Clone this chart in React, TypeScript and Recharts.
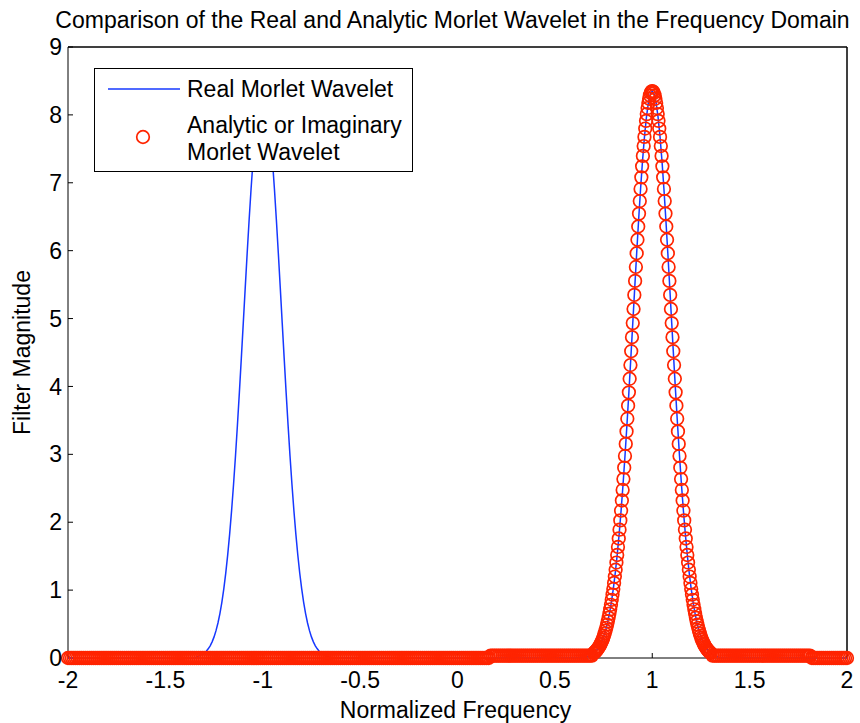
import React from 'react';
import { ScatterChart, Scatter, XAxis, YAxis, Legend, ReferenceLine } from 'recharts';

const TITLE = 'Comparison of the Real and Analytic Morlet Wavelet in the Frequency Domain';
const X_LABEL = 'Normalized Frequency';
const Y_LABEL = 'Filter Magnitude';
const SERIES_REAL = 'Real Morlet Wavelet';
const SERIES_ANALYTIC_1 = 'Analytic or Imaginary';
const SERIES_ANALYTIC_2 = 'Morlet Wavelet';

const xTicks = [-2, -1.5, -1, -0.5, 0, 0.5, 1, 1.5, 2];
const yTicks = [0, 1, 2, 3, 4, 5, 6, 7, 8, 9];

// Real Morlet wavelet (blue line)
const realFreq = [
  -2, -1.35, -1.31,
  -1.3, -1.29, -1.28, -1.27, -1.26, -1.25, -1.24, -1.23, -1.22, -1.21,
  -1.2, -1.19, -1.18, -1.17, -1.16, -1.15, -1.14, -1.13, -1.12, -1.11,
  -1.1, -1.09, -1.08, -1.07, -1.06, -1.05, -1.04, -1.03, -1.02, -1.01,
  -1.0, -0.99, -0.98, -0.97, -0.96, -0.95, -0.94, -0.93, -0.92, -0.91,
  -0.9, -0.89, -0.88, -0.87, -0.86, -0.85, -0.84, -0.83, -0.82, -0.81,
  -0.8, -0.79, -0.78, -0.77, -0.76, -0.75, -0.74, -0.73, -0.72, -0.71,
  -0.7, -0.69, -0.65,
  0.65, 0.69,
  0.7, 0.71, 0.72, 0.73, 0.74, 0.75, 0.76, 0.77, 0.78, 0.79,
  0.8, 0.81, 0.82, 0.83, 0.84, 0.85, 0.86, 0.87, 0.88, 0.89,
  0.9, 0.91, 0.92, 0.93, 0.94, 0.95, 0.96, 0.97, 0.98, 0.99,
  1.0, 1.01, 1.02, 1.03, 1.04, 1.05, 1.06, 1.07, 1.08, 1.09,
  1.1, 1.11, 1.12, 1.13, 1.14, 1.15, 1.16, 1.17, 1.18, 1.19,
  1.2, 1.21, 1.22, 1.23, 1.24, 1.25, 1.26, 1.27, 1.28, 1.29,
  1.3, 1.31, 1.35, 2,
];
const realMag = [
  0, 0, 0.053,
  0.073, 0.1, 0.135, 0.18, 0.238, 0.311, 0.403, 0.516, 0.654, 0.82,
  1.017, 1.249, 1.518, 1.824, 2.17, 2.555, 2.976, 3.431, 3.913, 4.417,
  4.933, 5.452, 5.962, 6.452, 6.909, 7.321, 7.676, 7.964, 8.176, 8.306,
  8.35, 8.306, 8.176, 7.964, 7.676, 7.321, 6.909, 6.452, 5.962, 5.452,
  4.933, 4.417, 3.913, 3.431, 2.976, 2.555, 2.17, 1.824, 1.518, 1.249,
  1.017, 0.82, 0.654, 0.516, 0.403, 0.311, 0.238, 0.18, 0.135, 0.1,
  0.073, 0.053, 0,
  0, 0.053,
  0.073, 0.1, 0.135, 0.18, 0.238, 0.311, 0.403, 0.516, 0.654, 0.82,
  1.017, 1.249, 1.518, 1.824, 2.17, 2.555, 2.976, 3.431, 3.913, 4.417,
  4.933, 5.452, 5.962, 6.452, 6.909, 7.321, 7.676, 7.964, 8.176, 8.306,
  8.35, 8.306, 8.176, 7.964, 7.676, 7.321, 6.909, 6.452, 5.962, 5.452,
  4.933, 4.417, 3.913, 3.431, 2.976, 2.555, 2.17, 1.824, 1.518, 1.249,
  1.017, 0.82, 0.654, 0.516, 0.403, 0.311, 0.238, 0.18, 0.135, 0.1,
  0.073, 0.053, 0, 0,
];

// Analytic Morlet wavelet (red circles)
const analyticZeroLevel = 0;
const analyticFloorLevel = 0.035;

const analyticZeroFreqLeft = [
  -2.0, -1.99, -1.98, -1.97, -1.96, -1.95, -1.94, -1.93, -1.92, -1.91,
  -1.9, -1.89, -1.88, -1.87, -1.86, -1.85, -1.84, -1.83, -1.82, -1.81,
  -1.8, -1.79, -1.78, -1.77, -1.76, -1.75, -1.74, -1.73, -1.72, -1.71,
  -1.7, -1.69, -1.68, -1.67, -1.66, -1.65, -1.64, -1.63, -1.62, -1.61,
  -1.6, -1.59, -1.58, -1.57, -1.56, -1.55, -1.54, -1.53, -1.52, -1.51,
  -1.5, -1.49, -1.48, -1.47, -1.46, -1.45, -1.44, -1.43, -1.42, -1.41,
  -1.4, -1.39, -1.38, -1.37, -1.36, -1.35, -1.34, -1.33, -1.32, -1.31,
  -1.3, -1.29, -1.28, -1.27, -1.26, -1.25, -1.24, -1.23, -1.22, -1.21,
  -1.2, -1.19, -1.18, -1.17, -1.16, -1.15, -1.14, -1.13, -1.12, -1.11,
  -1.1, -1.09, -1.08, -1.07, -1.06, -1.05, -1.04, -1.03, -1.02, -1.01,
  -1.0, -0.99, -0.98, -0.97, -0.96, -0.95, -0.94, -0.93, -0.92, -0.91,
  -0.9, -0.89, -0.88, -0.87, -0.86, -0.85, -0.84, -0.83, -0.82, -0.81,
  -0.8, -0.79, -0.78, -0.77, -0.76, -0.75, -0.74, -0.73, -0.72, -0.71,
  -0.7, -0.69, -0.68, -0.67, -0.66, -0.65, -0.64, -0.63, -0.62, -0.61,
  -0.6, -0.59, -0.58, -0.57, -0.56, -0.55, -0.54, -0.53, -0.52, -0.51,
  -0.5, -0.49, -0.48, -0.47, -0.46, -0.45, -0.44, -0.43, -0.42, -0.41,
  -0.4, -0.39, -0.38, -0.37, -0.36, -0.35, -0.34, -0.33, -0.32, -0.31,
  -0.3, -0.29, -0.28, -0.27, -0.26, -0.25, -0.24, -0.23, -0.22, -0.21,
  -0.2, -0.19, -0.18, -0.17, -0.16, -0.15, -0.14, -0.13, -0.12, -0.11,
  -0.1, -0.09, -0.08, -0.07, -0.06, -0.05, -0.04, -0.03, -0.02, -0.01,
  0.0, 0.01, 0.02, 0.03, 0.04, 0.05, 0.06, 0.07, 0.08, 0.09,
  0.1, 0.11, 0.12, 0.13, 0.14, 0.15, 0.16,
];
const analyticFloorFreqLeft = [
  0.17, 0.18, 0.19,
  0.2, 0.21, 0.22, 0.23, 0.24, 0.25, 0.26, 0.27, 0.28, 0.29,
  0.3, 0.31, 0.32, 0.33, 0.34, 0.35, 0.36, 0.37, 0.38, 0.39,
  0.4, 0.41, 0.42, 0.43, 0.44, 0.45, 0.46, 0.47, 0.48, 0.49,
  0.5, 0.51, 0.52, 0.53, 0.54, 0.55, 0.56, 0.57, 0.58, 0.59,
  0.6, 0.61, 0.62, 0.63, 0.64, 0.65, 0.66, 0.67, 0.68, 0.69,
];
const analyticPeakFreq = [
  0.7, 0.704, 0.708, 0.712, 0.716, 0.72, 0.724, 0.728, 0.732, 0.736,
  0.74, 0.744, 0.748, 0.752, 0.756, 0.76, 0.764, 0.768, 0.772, 0.776,
  0.78, 0.784, 0.788, 0.792, 0.796, 0.8, 0.804, 0.808, 0.812, 0.816,
  0.82, 0.824, 0.828, 0.832, 0.836, 0.84, 0.844, 0.848, 0.852, 0.856,
  0.86, 0.864, 0.868, 0.872, 0.876, 0.88, 0.884, 0.888, 0.892, 0.896,
  0.9, 0.904, 0.908, 0.912, 0.916, 0.92, 0.924, 0.928, 0.932, 0.936,
  0.94, 0.944, 0.948, 0.952, 0.956, 0.96, 0.964, 0.968, 0.972, 0.976,
  0.98, 0.984, 0.988, 0.992, 0.996,
  1.0,
  1.004, 1.008, 1.012, 1.016, 1.02, 1.024, 1.028, 1.032, 1.036, 1.04,
  1.044, 1.048, 1.052, 1.056, 1.06, 1.064, 1.068, 1.072, 1.076, 1.08,
  1.084, 1.088, 1.092, 1.096, 1.1, 1.104, 1.108, 1.112, 1.116, 1.12,
  1.124, 1.128, 1.132, 1.136, 1.14, 1.144, 1.148, 1.152, 1.156, 1.16,
  1.164, 1.168, 1.172, 1.176, 1.18, 1.184, 1.188, 1.192, 1.196, 1.2,
  1.204, 1.208, 1.212, 1.216, 1.22, 1.224, 1.228, 1.232, 1.236, 1.24,
  1.244, 1.248, 1.252, 1.256, 1.26, 1.264, 1.268, 1.272, 1.276, 1.28,
  1.284, 1.288, 1.292, 1.296, 1.3,
];
const analyticPeakMag = [
  0.073, 0.083, 0.094, 0.106, 0.12, 0.135, 0.152, 0.17, 0.191, 0.213,
  0.238, 0.265, 0.295, 0.328, 0.364, 0.403, 0.445, 0.491, 0.541, 0.595,
  0.654, 0.717, 0.784, 0.857, 0.934, 1.017, 1.106, 1.2, 1.3, 1.406,
  1.517, 1.636, 1.76, 1.89, 2.027, 2.17, 2.32, 2.475, 2.636, 2.804,
  2.976, 3.154, 3.338, 3.525, 3.717, 3.913, 4.113, 4.315, 4.519, 4.726,
  4.933, 5.141, 5.348, 5.555, 5.76, 5.962, 6.161, 6.356, 6.546, 6.731,
  6.909, 7.08, 7.242, 7.396, 7.541, 7.676, 7.799, 7.912, 8.012, 8.101,
  8.176, 8.238, 8.287, 8.322, 8.343,
  8.35,
  8.343, 8.322, 8.287, 8.238, 8.176, 8.101, 8.012, 7.912, 7.799, 7.676,
  7.541, 7.396, 7.242, 7.08, 6.909, 6.731, 6.546, 6.356, 6.161, 5.962,
  5.76, 5.555, 5.348, 5.141, 4.933, 4.726, 4.519, 4.315, 4.113, 3.913,
  3.717, 3.525, 3.338, 3.154, 2.976, 2.804, 2.636, 2.475, 2.32, 2.17,
  2.027, 1.89, 1.76, 1.636, 1.517, 1.406, 1.3, 1.2, 1.106, 1.017,
  0.934, 0.857, 0.784, 0.717, 0.654, 0.595, 0.541, 0.491, 0.445, 0.403,
  0.364, 0.328, 0.295, 0.265, 0.238, 0.213, 0.191, 0.17, 0.152, 0.135,
  0.12, 0.106, 0.094, 0.083, 0.073,
];
const analyticFloorFreqRight = [
  1.31, 1.32, 1.33, 1.34, 1.35, 1.36, 1.37, 1.38, 1.39,
  1.4, 1.41, 1.42, 1.43, 1.44, 1.45, 1.46, 1.47, 1.48, 1.49,
  1.5, 1.51, 1.52, 1.53, 1.54, 1.55, 1.56, 1.57, 1.58, 1.59,
  1.6, 1.61, 1.62, 1.63, 1.64, 1.65, 1.66, 1.67, 1.68, 1.69,
  1.7, 1.71, 1.72, 1.73, 1.74, 1.75, 1.76, 1.77, 1.78, 1.79,
  1.8, 1.81,
];
const analyticZeroFreqRight = [
  1.82, 1.83, 1.84, 1.85, 1.86, 1.87, 1.88, 1.89,
  1.9, 1.91, 1.92, 1.93, 1.94, 1.95, 1.96, 1.97, 1.98, 1.99, 2.0,
];

const realData = realFreq.map((f, i) => ({ f, m: realMag[i] }));
const analyticData = [
  ...analyticZeroFreqLeft.map((f) => ({ f, m: analyticZeroLevel })),
  ...analyticFloorFreqLeft.map((f) => ({ f, m: analyticFloorLevel })),
  ...analyticPeakFreq.map((f, i) => ({ f, m: analyticPeakMag[i] })),
  ...analyticFloorFreqRight.map((f) => ({ f, m: analyticFloorLevel })),
  ...analyticZeroFreqRight.map((f) => ({ f, m: analyticZeroLevel })),
];

const FONT = '"Liberation Sans", Arial, Helvetica, sans-serif';
const FS = 23;
const BLUE = '#1638ff';
const RED = '#ff2400';

const RedCircle = (props: any) => {
  const { cx, cy } = props;
  if (cx == null || cy == null) return <g />;
  return <circle cx={cx} cy={cy} r={6.3} fill="none" stroke={RED} strokeWidth={1.7} />;
};
const NoDot = () => <g />;

const YLabel = (props: any) => {
  const vb = props.viewBox || { x: 0, y: 47, height: 611 };
  const cy = vb.y + vb.height / 2;
  const cx = 30;
  return (
    <text x={cx} y={cy} transform={`rotate(-90, ${cx}, ${cy})`} textAnchor="middle" fontSize={FS} fill="#000" fontFamily={FONT}>
      {Y_LABEL}
    </text>
  );
};
const XLabel = (props: any) => {
  const vb = props.viewBox || { x: 68, y: 658, width: 779 };
  return (
    <text x={vb.x + vb.width / 2 - 2} y={718} textAnchor="middle" fontSize={FS} fill="#000" fontFamily={FONT}>
      {X_LABEL}
    </text>
  );
};

const LegendBox = () => (
  <div style={{ width: 319, height: 104, boxSizing: 'border-box', border: '1px solid #000', background: '#fff' }}>
    <svg width={317} height={102} style={{ display: 'block' }}>
      <line x1={13} y1={20} x2={85} y2={20} stroke={BLUE} strokeWidth={1.5} />
      <text x={92} y={28} fontSize={FS} fill="#000" fontFamily={FONT}>{SERIES_REAL}</text>
      <circle cx={48} cy={68} r={6.3} fill="none" stroke={RED} strokeWidth={1.7} />
      <text x={92} y={64} fontSize={FS} fill="#000" fontFamily={FONT}>{SERIES_ANALYTIC_1}</text>
      <text x={92} y={91} fontSize={FS} fill="#000" fontFamily={FONT}>{SERIES_ANALYTIC_2}</text>
    </svg>
  </div>
);

const tickStyle = { fill: '#000', fontSize: FS, fontFamily: FONT };

export default function App() {
  return (
    <div style={{ position: 'absolute', left: 0, top: 0, width: 860, height: 723, background: '#fff' }}>
      <ScatterChart width={860} height={723} margin={{ top: 46, right: 12, bottom: 21, left: 0 }} style={{ fontFamily: FONT }}>
        <Scatter
          name={SERIES_REAL}
          data={realData}
          dataKey="m"
          line={{ stroke: BLUE, strokeWidth: 1.5 }}
          lineType="joint"
          shape={NoDot}
          isAnimationActive={false}
        />
        <Scatter
          name={SERIES_ANALYTIC_1}
          data={analyticData}
          dataKey="m"
          shape={RedCircle}
          isAnimationActive={false}
        />
        <ReferenceLine y={9} stroke="#000" strokeWidth={1} ifOverflow="extendDomain" />
        <ReferenceLine x={2} stroke="#000" strokeWidth={1} ifOverflow="extendDomain" />
        <XAxis
          xAxisId={0}
          type="number"
          dataKey="f"
          domain={[-2, 2]}
          ticks={xTicks}
          height={44}
          tickSize={-5}
          tickMargin={19}
          tick={tickStyle}
          stroke="#000"
          tickLine={{ stroke: '#000' }}
          axisLine={{ stroke: '#000' }}
          label={<XLabel />}
          interval={0}
        />
        <XAxis
          xAxisId="top"
          orientation="top"
          type="number"
          domain={[-2, 2]}
          ticks={xTicks}
          height={1}
          tickSize={-5}
          tick={false}
          tickLine={{ stroke: '#000' }}
          axisLine={{ stroke: '#000' }}
          interval={0}
        />
        <YAxis
          yAxisId={0}
          type="number"
          dataKey="m"
          domain={[0, 9]}
          ticks={yTicks}
          width={68}
          tickSize={-5}
          tickMargin={11}
          tick={tickStyle}
          tickLine={{ stroke: '#000' }}
          axisLine={{ stroke: '#000' }}
          label={<YLabel />}
          interval={0}
        />
        <YAxis
          yAxisId="right"
          orientation="right"
          type="number"
          domain={[0, 9]}
          ticks={yTicks}
          width={1}
          tickSize={-5}
          tick={false}
          tickLine={{ stroke: '#000' }}
          axisLine={{ stroke: '#000' }}
          interval={0}
        />
        <Legend
          content={<LegendBox />}
          layout="vertical"
          align="center"
          verticalAlign="middle"
          wrapperStyle={{ position: 'absolute', left: 94, top: 68, width: 319, height: 104 }}
        />
      </ScatterChart>
      <svg width={860} height={40} style={{ position: 'absolute', left: 0, top: 0, pointerEvents: 'none' }}>
        <text x={452.5} y={28} textAnchor="middle" fontSize={FS} fill="#000" fontFamily={FONT}>
          {TITLE}
        </text>
      </svg>
    </div>
  );
}
